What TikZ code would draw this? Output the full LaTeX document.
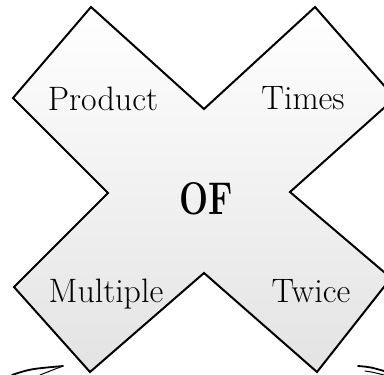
\documentclass[tikz,border=0pt]{standalone}
\usetikzlibrary{calc}
\begin{document}
\begin{tikzpicture}[x=1bp,y=-1bp,
  word/.style={font=\fontsize{34}{36}\selectfont, inner sep=0pt, anchor=base},
  crossline/.style={draw=black, line width=2bp, line join=miter},
  pen/.style={draw=black, line cap=round}]
\useasboundingbox (0,0) rectangle (384,375);
\clip (0,0) rectangle (384,375);
% cross outline points
\coordinate (tn) at (204,109);
\coordinate (urt) at (315,7);
\coordinate (urr) at (395,98);
\coordinate (rn) at (290,192);
\coordinate (lrr) at (391,278);
\coordinate (lrb) at (317,372);
\coordinate (bn) at (204,273);
\coordinate (llb) at (90,372);
\coordinate (lll) at (14,287);
\coordinate (ln) at (108,193);
\coordinate (ull) at (13,98);
\coordinate (ult) at (91,7);
\shade[top color=white, middle color=gray!12, bottom color=gray!22]
  (tn) -- (urt) -- (urr) -- (rn) -- (lrr) -- (lrb) -- (bn) -- (llb) -- (lll) -- (ln) -- (ull) -- (ult) -- cycle;
\path[crossline]
  (tn) -- (urt) -- (urr) -- (rn) -- (lrr) -- (lrb) -- (bn) -- (llb) -- (lll) -- (ln) -- (ull) -- (ult) -- cycle;
% words
\node[word] (product) at (103,110) {Product};
\node[word] (times) at (303,109) {Times};
\node[word] (multiple) at (106,302) {Multiple};
\node[word] (twice) at (311,302) {Twice};
\node[inner sep=0pt, anchor=base, font=\fontsize{46}{48}\selectfont\bfseries, xscale=0.75, transform shape] (of) at (206,214) {OF};
% partial pen strokes at the bottom
\coordinate (a1) at (12,375);
\coordinate (a2) at (63,366);
\coordinate (a3) at (40,375);
\path[pen, line width=1.8bp] (a1) .. controls (30,369) .. (a2);
\path[pen, line width=1bp] (a3) .. controls (50,371) .. (a2);
\coordinate (b1) at (358,366);
\coordinate (b2) at (384,371);
\coordinate (b3) at (365,371);
\coordinate (b4) at (384,375);
\path[pen, line width=1.8bp] (b1) .. controls (370,367) .. (b2);
\path[pen, line width=1bp] (b3) .. controls (372,372) .. (b4);
\end{tikzpicture}
\end{document}
